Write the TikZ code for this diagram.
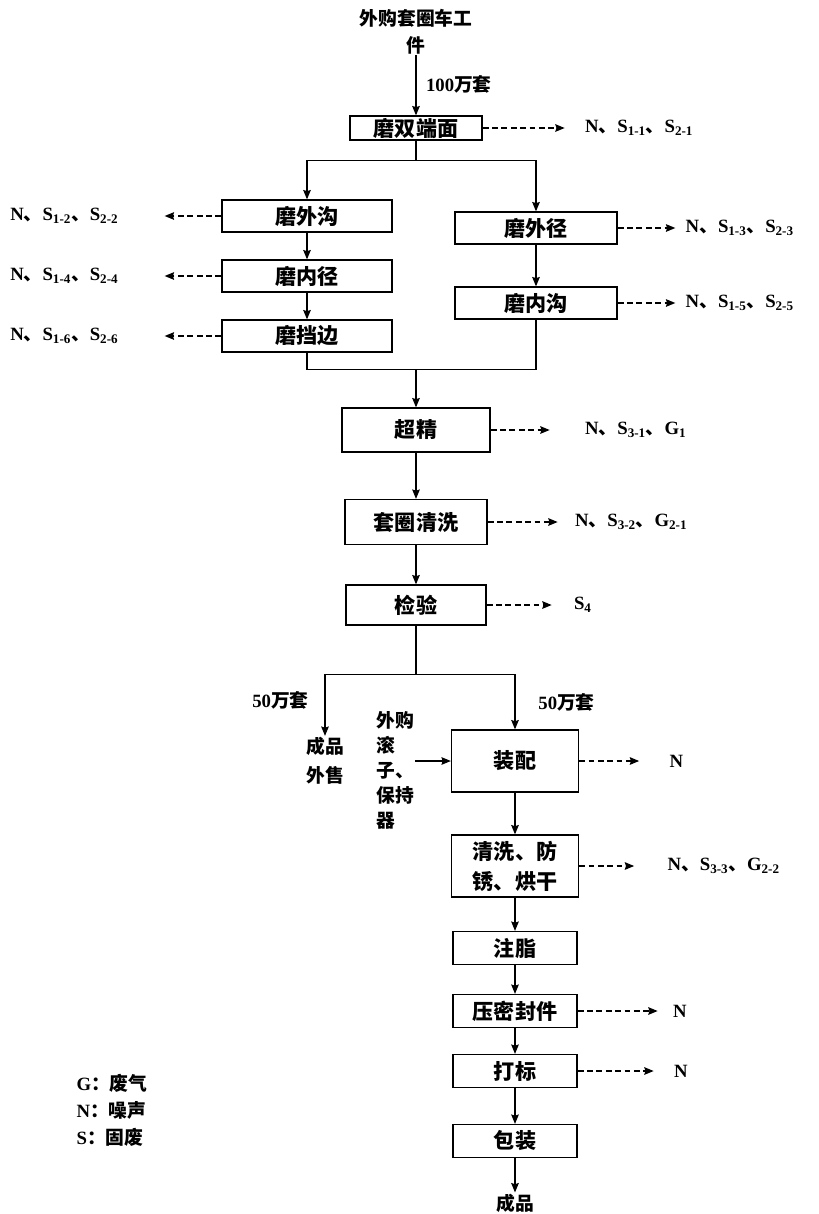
\documentclass[tikz,border=0pt]{standalone}
\usepackage{fontspec}
\setmainfont{Noto Sans CJK SC}
\newfontfamily\enfont{Liberation Serif}
\usetikzlibrary{positioning, arrows.meta}

\newcommand{\en}[1]{{\enfont #1}}
\newcommand{\boxfont}{\fontsize{18}{25.5}\selectfont\bfseries}
\newcommand{\lblfont}{\fontsize{16}{21}\selectfont\bfseries}

\begin{document}
\begin{tikzpicture}[
    node distance=1.8cm,
    >={Stealth[length=8pt, width=6.5pt, inset=1pt]},
    box/.style={rectangle, draw, line width=1.1pt, inner sep=1pt, align=center, font=\boxfont},
    grind/.style={box, minimum width=5.1cm, minimum height=0.96cm},
    grindr/.style={box, minimum width=4.86cm, minimum height=0.96cm},
    small/.style={box, minimum width=3.72cm, minimum height=0.99cm},
    lbl/.style={inner sep=1pt, align=center, font=\lblfont},
    arrow/.style={->, line width=1pt},
    dasharrow/.style={->, dash pattern=on 5pt off 3pt, line width=1pt}
]
    \useasboundingbox (0,0) rectangle (24.57,-36.42);

    % Incoming parts
    \node (moshuang) [box, minimum width=3.96cm, minimum height=0.72cm] at (12.48,-3.84) {磨双端面};
    \node (source) [lbl, node distance=2.9cm, above of=moshuang, font=\fontsize{16}{23}\selectfont\bfseries] {外购套圈车工\\件};

    % Grinding, left branch
    \node (mowaigou) [grind, node distance=2.64cm, below of=moshuang, xshift=-3.27cm] {磨外沟};
    \node (moneijing) [grind, below of=mowaigou] {磨内径};
    \node (modangbian) [grind, below of=moneijing] {磨挡边};

    % Grinding, right branch
    \node (mowaijing) [grindr, node distance=3cm, below of=moshuang, xshift=3.6cm] {磨外径};
    \node (moneigou) [grindr, node distance=2.25cm, below of=mowaijing] {磨内沟};

    % Finishing and inspection
    \node (chaojing) [box, minimum width=4.44cm, minimum height=1.32cm, node distance=9.06cm, below of=moshuang] {超精};
    \node (qingxi) [box, minimum width=4.26cm, minimum height=1.35cm, node distance=2.76cm, below of=chaojing] {套圈清洗};
    \node (jianyan) [box, minimum width=4.2cm, minimum height=1.2cm, node distance=2.49cm, below of=qingxi] {检验};

    % Assembly line
    \node (zhuangpei) [box, minimum width=3.81cm, minimum height=1.86cm, node distance=4.68cm, below of=jianyan, xshift=2.97cm] {装配};
    \node (fangxiu) [box, minimum width=3.81cm, minimum height=1.86cm, node distance=3.15cm, below of=zhuangpei] {清洗、防\\锈、烘干};
    \node (zhuzhi) [small, node distance=2.46cm, below of=fangxiu] {注脂};
    \node (yamifeng) [small, node distance=1.89cm, below of=zhuzhi] {压密封件};
    \node (dabiao) [small, below of=yamifeng] {打标};
    \node (baozhuang) [small, node distance=2.1cm, below of=dabiao] {包装};
    \node (chengpin) [lbl, node distance=1.86cm, below of=baozhuang] {成品};

    \node (waishou) [lbl, node distance=5.7cm, left of=zhuangpei, font=\fontsize{16}{25}\selectfont\bfseries] {成品\\外售};
    \node (gunzi) [lbl, align=left, node distance=3.6cm, left of=zhuangpei, yshift=-0.27cm, font=\fontsize{16}{21.3}\selectfont\bfseries] {外购\\滚\\子、\\保持\\器};
    \node (qleft) [lbl, above left=0.75cm and 0.45cm of waishou.north] {\en{50}万套};
    \node (qright) [lbl, above right=0.5cm and 0.66cm of zhuangpei.north] {\en{50}万套};

    % Emissions
    \node (e11) [lbl, right=3.03cm of moshuang] {\en{N}、\en{S\textsubscript{1-1}}、\en{S\textsubscript{2-1}}};
    \node (e12) [lbl, left=3.05cm of mowaigou] {\en{N}、\en{S\textsubscript{1-2}}、\en{S\textsubscript{2-2}}};
    \node (e14) [lbl, left=3.05cm of moneijing] {\en{N}、\en{S\textsubscript{1-4}}、\en{S\textsubscript{2-4}}};
    \node (e16) [lbl, left=3.05cm of modangbian] {\en{N}、\en{S\textsubscript{1-6}}、\en{S\textsubscript{2-6}}};
    \node (e13) [lbl, right=2cm of mowaijing] {\en{N}、\en{S\textsubscript{1-3}}、\en{S\textsubscript{2-3}}};
    \node (e15) [lbl, right=2cm of moneigou] {\en{N}、\en{S\textsubscript{1-5}}、\en{S\textsubscript{2-5}}};
    \node (e31) [lbl, right=2.79cm of chaojing] {\en{N}、\en{S\textsubscript{3-1}}、\en{G\textsubscript{1}}};
    \node (e32) [lbl, right=2.58cm of qingxi] {\en{N}、\en{S\textsubscript{3-2}}、\en{G\textsubscript{2-1}}};
    \node (e4) [lbl, right=2.58cm of jianyan] {\en{S\textsubscript{4}}};
    \node (en1) [lbl, right=2.67cm of zhuangpei] {\en{N}};
    \node (e33) [lbl, right=2.61cm of fangxiu] {\en{N}、\en{S\textsubscript{3-3}}、\en{G\textsubscript{2-2}}};
    \node (en2) [lbl, right=2.82cm of yamifeng] {\en{N}};
    \node (en3) [lbl, right=2.85cm of dabiao] {\en{N}};

    % Legend
    \node (legend) [lbl, align=left, node distance=12.09cm, left of=dabiao, yshift=-1.17cm, font=\fontsize{16}{23}\selectfont\bfseries] {\en{G}：废气\\\en{N}：噪声\\\en{S}：固废};

    % Split and merge points
    \coordinate (split1) at ([yshift=-0.6cm]moshuang.south);
    \coordinate (merge) at ([yshift=1.14cm]chaojing.north);
    \coordinate (split2) at ([yshift=-1.47cm]jianyan.south);

    % Main flow
    \draw [arrow] (source) -- node[lbl, right, pos=0.48, xshift=0.25cm] {\en{100}万套} (moshuang);
    \draw [arrow] (moshuang.south) -- (split1) -| (mowaigou);
    \draw [arrow] (split1) -| (mowaijing);
    \draw [arrow] (mowaigou) -- (moneijing);
    \draw [arrow] (moneijing) -- (modangbian);
    \draw [arrow] (mowaijing) -- (moneigou);
    \draw [line width=1pt] (modangbian.south) |- (merge) -| (moneigou.south);
    \draw [arrow] (merge) -- (chaojing);
    \draw [arrow] (chaojing) -- (qingxi);
    \draw [arrow] (qingxi) -- (jianyan);
    \draw [arrow] (jianyan.south) -- (split2) -| (waishou);
    \draw [arrow] (split2) -| (zhuangpei);
    \draw [arrow] (gunzi.east |- zhuangpei.west) -- (zhuangpei.west);
    \draw [arrow] (zhuangpei) -- (fangxiu);
    \draw [arrow] (fangxiu) -- (zhuzhi);
    \draw [arrow] (zhuzhi) -- (yamifeng);
    \draw [arrow] (yamifeng) -- (dabiao);
    \draw [arrow] (dabiao) -- (baozhuang);
    \draw [arrow] (baozhuang) -- (chengpin);

    % Emission arrows
    \draw [dasharrow, shorten >=0.57cm] (moshuang) -- (e11);
    \draw [dasharrow, shorten >=1.35cm] (mowaigou) -- (e12);
    \draw [dasharrow, shorten >=1.35cm] (moneijing) -- (e14);
    \draw [dasharrow, shorten >=1.35cm] (modangbian) -- (e16);
    \draw [dasharrow, shorten >=0.27cm] (mowaijing) -- (e13);
    \draw [dasharrow, shorten >=0.27cm] (moneigou) -- (e15);
    \draw [dasharrow, shorten >=1.02cm] (chaojing) -- (e31);
    \draw [dasharrow, shorten >=0.48cm] (qingxi) -- (e32);
    \draw [dasharrow, shorten >=0.63cm] (jianyan) -- (e4);
    \draw [dasharrow, shorten >=0.87cm] (zhuangpei) -- (en1);
    \draw [dasharrow, shorten >=0.96cm] (fangxiu) -- (e33);
    \draw [dasharrow, shorten >=0.42cm] (yamifeng) -- (en2);
    \draw [dasharrow, shorten >=0.57cm] (dabiao) -- (en3);

\end{tikzpicture}
\end{document}
